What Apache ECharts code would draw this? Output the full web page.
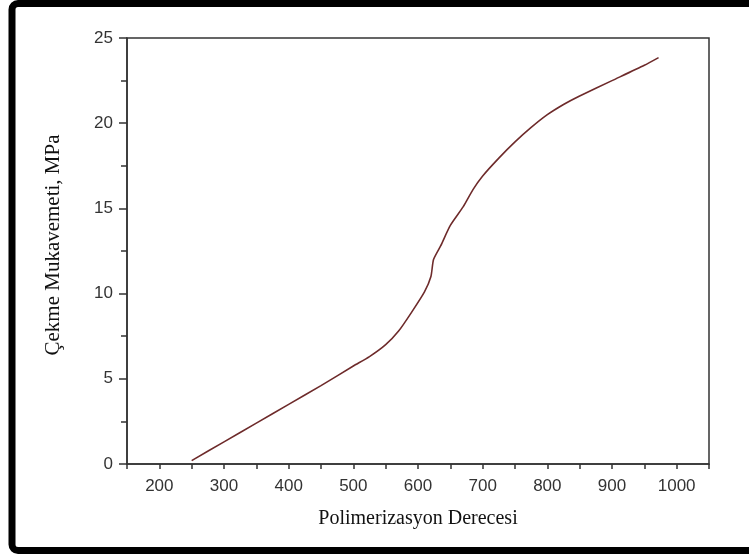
<!DOCTYPE html>
<html>
<head>
<meta charset="utf-8">
<script src="https://cdn.jsdelivr.net/npm/echarts@6/dist/echarts.min.js"></script>
<style>
  html, body { margin: 0; padding: 0; background: #fff; }
  #main { width: 749px; height: 556px; }
</style>
</head>
<body>
<div id="main"></div>
<script>
// degree of polymerization vs tensile strength
var dp = [250, 300, 350, 400, 450, 500, 525, 550, 570, 590, 610, 620, 624, 635, 650, 670, 685, 700, 725, 750, 775, 800, 825, 850, 900, 950, 972];
var strength = [0.2, 1.3, 2.4, 3.5, 4.6, 5.75, 6.3, 7.0, 7.8, 8.9, 10.1, 11.0, 12.0, 12.8, 14.0, 15.1, 16.1, 16.9, 17.95, 18.9, 19.75, 20.5, 21.1, 21.6, 22.5, 23.4, 23.85];

var chart = echarts.init(document.getElementById('main'));

var lineData = dp.map(function (x, i) { return [x, strength[i]]; });

var option = {
    backgroundColor: '#fff',
    animation: false,
    grid: {
        left: 127,
        right: 40,
        top: 38,
        bottom: 92,
        show: true,
        borderColor: '#333',
        borderWidth: 1.5
    },
    xAxis: {
        type: 'value',
        min: 150,
        max: 1050,
        interval: 50,
        name: 'Polimerizasyon Derecesi',
        nameLocation: 'middle',
        nameGap: 45,
        nameTextStyle: { fontFamily: 'Liberation Serif', fontSize: 20, color: '#111' },
        axisLine: { show: true, lineStyle: { color: '#333', width: 1.5 } },
        axisTick: { show: true, length: 5, lineStyle: { color: '#333', width: 1.5 } },
        axisLabel: {
            margin: 14,
            fontFamily: 'Liberation Sans',
            fontSize: 17,
            color: '#333',
            formatter: function (v) { return (v % 100 === 0) ? String(v) : ''; }
        },
        splitLine: { show: false }
    },
    yAxis: {
        type: 'value',
        min: 0,
        max: 25,
        interval: 5,
        name: 'Çekme Mukavemeti, MPa',
        nameLocation: 'middle',
        nameGap: 63,
        nameTextStyle: { fontFamily: 'Liberation Serif', fontSize: 21, color: '#111', padding: [0, 0, 0, 12] },
        axisLine: { show: true, lineStyle: { color: '#333', width: 1.5 } },
        axisTick: { show: true, length: 8, lineStyle: { color: '#333', width: 1.5 } },
        minorTick: { show: true, splitNumber: 2, length: 6, lineStyle: { color: '#333', width: 1.5 } },
        axisLabel: { margin: 14, fontFamily: 'Liberation Sans', fontSize: 17, color: '#333' },
        splitLine: { show: false }
    },
    series: [{
        type: 'line',
        data: lineData,
        smooth: 0.2,
        showSymbol: false,
        lineStyle: { color: '#6e2b2b', width: 1.6 }
    }],
    graphic: [{
        type: 'rect',
        shape: { x: 12, y: 3.5, width: 760, height: 547, r: 6 },
        style: { fill: 'none', stroke: '#000', lineWidth: 7 },
        z: 100
    }]
};

chart.setOption(option);
</script>
</body>
</html>
